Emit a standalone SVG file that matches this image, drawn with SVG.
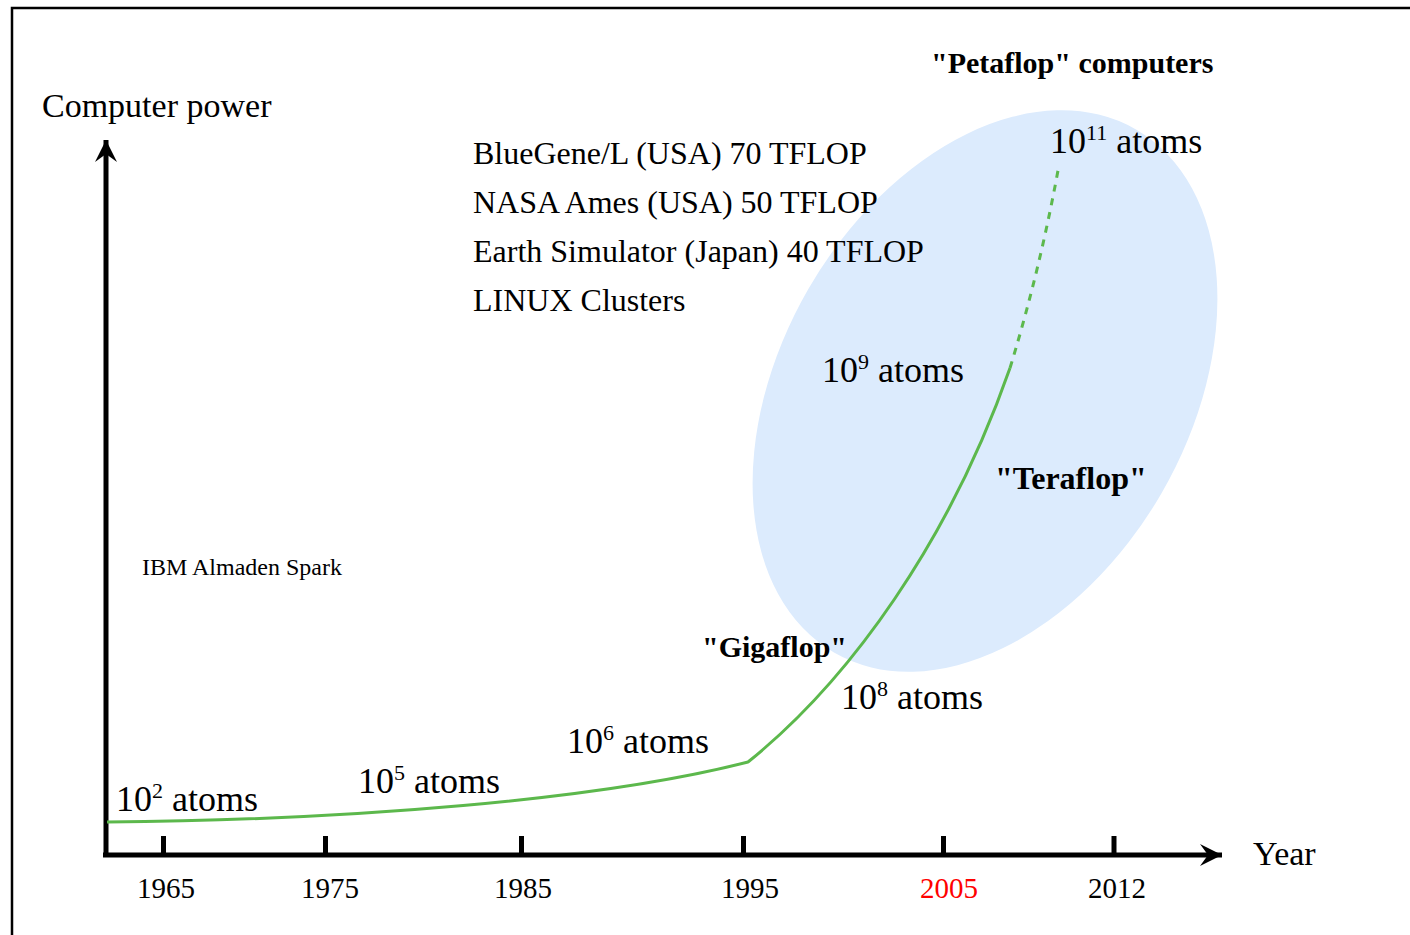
<svg xmlns="http://www.w3.org/2000/svg" width="1410" height="935" viewBox="0 0 1410 935">
  <defs>
    <style>
      .serif { font-family: "Liberation Serif", "Times New Roman", serif; fill: #000; }
      .label { font-size: 32px; }
      .bold { font-size: 30px; font-weight: bold; }
      .atoms { font-size: 36px; }
      .sup { font-size: 22px; }
      .year { font-size: 29px; }
      .axis { stroke: #000; stroke-width: 5; fill: none; }
      .tick { stroke: #000; stroke-width: 5; }
      .growth { stroke: #5cb84c; stroke-width: 3; fill: none; }
      .growth-dash { stroke: #5cb84c; stroke-width: 3; fill: none; stroke-dasharray: 7 7; }
    </style>
    <marker id="arrowhead" viewBox="-24 -12 26 24" refX="0" refY="0" markerWidth="26" markerHeight="24" markerUnits="userSpaceOnUse" orient="auto">
      <polygon points="0,0 -22,-11 -14,0 -22,11" fill="#000"/>
    </marker>
  </defs>

  <rect width="1410" height="935" fill="#fff"/>

  <!-- outer frame (open on the right and bottom) -->
  <g id="frame">
    <path d="M12,935 V8 H1410" fill="none" stroke="#000" stroke-width="2.5"/>
  </g>

  <!-- highlighted era of tera/petaflop machines -->
  <g id="teraflop-region">
    <ellipse cx="985" cy="391" rx="302" ry="204" transform="rotate(-60 985 391)" fill="#dcebfd"/>
  </g>

  <!-- axes -->
  <g id="axes">
    <line class="axis" x1="106" y1="857" x2="106" y2="140" marker-end="url(#arrowhead)"/>
    <line class="axis" x1="103" y1="855" x2="1222" y2="855" marker-end="url(#arrowhead)"/>
    <line class="tick" x1="163.5" y1="836" x2="163.5" y2="855"/>
    <line class="tick" x1="325.5" y1="836" x2="325.5" y2="855"/>
    <line class="tick" x1="521.5" y1="836" x2="521.5" y2="855"/>
    <line class="tick" x1="743.5" y1="836" x2="743.5" y2="855"/>
    <line class="tick" x1="943.5" y1="836" x2="943.5" y2="855"/>
    <line class="tick" x1="1114" y1="836" x2="1114" y2="855"/>
  </g>

  <!-- growth curve -->
  <g id="connectors">
    <path class="growth" d="M107,822 C350,820 600,800 748,762 C850,680 950,540 1010,368"/>
    <path class="growth-dash" d="M1010,368 Q1040,270 1059,165"/>
  </g>

  <!-- axis titles -->
  <g id="axis-titles">
    <text class="serif" x="42" y="117" font-size="34">Computer power</text>
    <text class="serif" x="1253" y="865" font-size="34">Year</text>
  </g>

  <!-- year labels -->
  <g id="year-labels" class="serif year">
    <text x="137" y="898">1965</text>
    <text x="301" y="898">1975</text>
    <text x="494" y="898">1985</text>
    <text x="721" y="898">1995</text>
    <text x="920" y="898" fill="#ff0000">2005</text>
    <text x="1088" y="898">2012</text>
  </g>

  <!-- machines -->
  <g id="machines" class="serif label">
    <text x="473" y="164">BlueGene/L (USA) 70 TFLOP</text>
    <text x="473" y="213">NASA Ames (USA) 50 TFLOP</text>
    <text x="473" y="262">Earth Simulator (Japan) 40 TFLOP</text>
    <text x="473" y="311">LINUX Clusters</text>
  </g>
  <g id="ibm">
    <text class="serif" x="142" y="575" font-size="24">IBM Almaden Spark</text>
  </g>

  <!-- performance classes -->
  <g id="flop-classes" class="serif bold">
    <text x="931" y="73">"Petaflop" computers</text>
    <text x="995" y="489" font-size="32">"Teraflop"</text>
    <text x="702" y="657">"Gigaflop"</text>
  </g>

  <!-- simulation sizes -->
  <g id="atom-counts" class="serif atoms">
    <text x="116" y="811">10<tspan class="sup" dy="-13">2</tspan><tspan dy="13"> atoms</tspan></text>
    <text x="358" y="793">10<tspan class="sup" dy="-13">5</tspan><tspan dy="13"> atoms</tspan></text>
    <text x="567" y="753">10<tspan class="sup" dy="-13">6</tspan><tspan dy="13"> atoms</tspan></text>
    <text x="841" y="709">10<tspan class="sup" dy="-13">8</tspan><tspan dy="13"> atoms</tspan></text>
    <text x="822" y="382">10<tspan class="sup" dy="-13">9</tspan><tspan dy="13"> atoms</tspan></text>
    <text x="1050" y="153">10<tspan class="sup" dy="-13">11</tspan><tspan dy="13"> atoms</tspan></text>
  </g>
</svg>
